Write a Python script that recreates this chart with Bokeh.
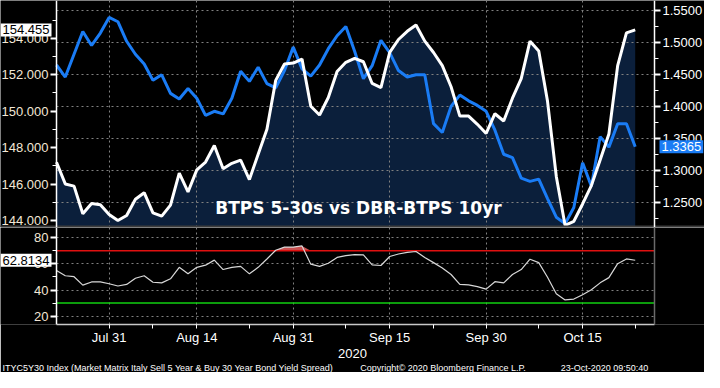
import numpy as np
import pandas as pd
from bokeh.plotting import figure
from bokeh.models import (Range1d, LinearAxis, FixedTicker, NumeralTickFormatter, Grid,
                          Label, Span, Title)
from bokeh.layouts import column
from bokeh.embed import file_html
from bokeh.resources import INLINE

# ---------------- data ----------------
dates = pd.bdate_range("2020-07-23", "2020-10-23")

btps_5s30s = [147.2, 146.01, 145.89, 144.37, 144.94, 144.87, 144.33, 144.0, 144.28, 145.17,
              145.53, 144.42, 144.24, 144.85, 146.60, 145.57, 146.78, 147.21, 148.12, 146.84,
              147.14, 147.32, 146.25, 147.64, 149.01, 151.69, 152.59, 152.64, 152.86, 150.27,
              149.79, 150.75, 152.18, 152.68, 152.90, 152.71, 151.52, 151.29, 153.22, 153.93,
              154.38, 154.73, 153.84, 153.22, 152.50, 151.34, 149.73, 149.73, 149.28, 148.78,
              149.86, 149.46, 150.71, 151.79, 153.84, 153.30, 150.54, 146.42, 143.74, 143.96,
              144.91, 145.92, 147.32, 148.75, 152.50, 154.29, 154.455]

dbr_btps_10y = [1.4644, 1.4456, 1.4812, 1.5168, 1.4950, 1.5144, 1.5388, 1.5321, 1.5015, 1.4812,
                1.4659, 1.4404, 1.4491, 1.4200, 1.4113, 1.4277, 1.4124, 1.3855, 1.3920, 1.3879,
                1.4124, 1.4547, 1.4388, 1.4609, 1.4353, 1.4287, 1.4557, 1.4924, 1.4583, 1.4471,
                1.4644, 1.4899, 1.5102, 1.5245, 1.4858, 1.4430, 1.4633, 1.5031, 1.4838, 1.4557,
                1.4456, 1.4491, 1.4491, 1.3726, 1.3589, 1.3997, 1.4174, 1.4083, 1.4012, 1.3920,
                1.3624, 1.3248, 1.3196, 1.2875, 1.2824, 1.2859, 1.2554, 1.2263, 1.2162, 1.2416,
                1.3115, 1.2748, 1.3523, 1.3359, 1.3726, 1.3726, 1.3365]

rsi_5s30s = [55.0, 50.95, 50.2, 43.8, 46.2, 46.2, 44.8, 43.1, 44.3, 49.0,
             50.95, 45.95, 45.5, 48.6, 57.4, 52.4, 57.4, 59.05, 62.9, 55.7,
             57.4, 58.1, 52.4, 57.4, 63.8, 70.5, 72.9, 72.9, 73.8, 59.8,
             58.1, 60.5, 65.0, 66.4, 67.1, 66.9, 59.3, 58.8, 65.7, 67.6,
             68.8, 69.5, 65.0, 61.0, 56.9, 51.9, 44.3, 44.0, 42.6, 40.7,
             46.4, 45.5, 51.9, 55.7, 63.6, 61.0, 49.8, 37.1, 32.4, 33.1,
             36.4, 40.2, 45.5, 49.5, 60.2, 63.8, 62.8134]

tick_dates = ["2020-07-31", "2020-08-14", "2020-08-31", "2020-09-15", "2020-09-30", "2020-10-15"]
tick_labels = ["Jul 31", "Aug 14", "Aug 31", "Sep 15", "Sep 30", "Oct 15"]
minor_dates = ["2020-08-07", "2020-08-24", "2020-09-08", "2020-09-22", "2020-10-08", "2020-10-23"]
left_ticks = [144, 146, 148, 150, 152, 154]
left_minor = [145, 147, 149, 151, 153, 155]
right_ticks = [1.25, 1.30, 1.35, 1.40, 1.45, 1.50, 1.55]
right_minor = [1.225, 1.275, 1.325, 1.375, 1.425, 1.475, 1.525]
rsi_ticks = [20, 40, 60, 80]
rsi_minor = [30, 50, 70]
rsi_upper = 70
rsi_lower = 30
chart_title = "BTPS 5-30s vs DBR-BTPS 10yr"
footer_left = "ITYC5Y30 Index (Market Matrix Italy Sell 5 Year & Buy 30 Year Bond Yield Spread)"
footer_mid = "Copyright\u00a9 2020 Bloomberg Finance L.P."
footer_right = "23-Oct-2020 09:50:40"
year_label = "2020"

# ---------------- layout / styling ----------------
W = 704
LB, RB = 56, 50            # room for the axis labels (inside the frame)
TOP_H = 227
BOT_H = 145
BG = "#000000"
NAVY = "#0b1f3b"
BLUE = "#1a7cf5"
GRIDC = "#808080"
CREAM = "#f3e7d6"
FONT = "Liberation Sans"

x = np.arange(len(dates))
major_idx = [int(dates.get_loc(pd.Timestamp(d))) for d in tick_dates]
minor_idx = [int(dates.get_loc(pd.Timestamp(d))) for d in minor_dates]

X_AXIS_L, X_AXIS_R = 0.0, 68.2
scale = (W - LB - RB) / (X_AXIS_R - X_AXIS_L)
x_range = Range1d(X_AXIS_L - LB / scale, X_AXIS_R + RB / scale)
TOP_Y0, TOP_Y1 = 143.62, 156.07


def style_axis(ax, color):
    ax.axis_line_color = "#ffffff"
    ax.axis_line_width = 1.5
    ax.major_tick_line_color = "#ffffff"
    ax.major_tick_line_width = 2
    ax.major_tick_out = 6
    ax.major_tick_in = 0
    ax.minor_tick_line_color = "#ffffff"
    ax.minor_tick_out = 4
    ax.minor_tick_in = 0
    ax.major_label_text_color = color
    ax.major_label_text_font = FONT
    ax.major_label_text_font_size = "13px"
    ax.major_label_standoff = 2


def value_box(**kw):
    return Label(text_baseline="middle", text_font=FONT, text_font_size="13px",
                 padding=2, level="overlay", **kw)


# ---------------- top panel ----------------
p1 = figure(width=W, height=TOP_H, x_range=x_range, y_range=Range1d(TOP_Y0, TOP_Y1),
            output_backend="svg", toolbar_location=None,
            min_border_left=0, min_border_right=0, min_border_top=0, min_border_bottom=0,
            background_fill_color=BG, border_fill_color=BG, outline_line_color=None)
p1.extra_y_ranges = {"right": Range1d(1.2102, 1.5653)}

# separator bar drawn as the (label-less) bottom axis of the top panel
xs = p1.xaxis[0]
xs.ticker = FixedTicker(ticks=[])
xs.axis_line_color = "#3c3c3c"
xs.axis_line_width = 4
xs.major_tick_line_color = None
xs.minor_tick_line_color = None
xs.major_label_text_font_size = "0px"
xs.major_label_standoff = 0

yl = p1.yaxis[0]
yl.ticker = FixedTicker(ticks=left_ticks, minor_ticks=left_minor)
yl.formatter = NumeralTickFormatter(format="0.000")
yl.fixed_location = X_AXIS_L
style_axis(yl, CREAM)

yr = LinearAxis(y_range_name="right",
                ticker=FixedTicker(ticks=right_ticks, minor_ticks=right_minor),
                formatter=NumeralTickFormatter(format="0.0000"),
                fixed_location=X_AXIS_R)
style_axis(yr, "#ffffff")
p1.add_layout(yr, "right")

p1.ygrid.grid_line_color = None
p1.xgrid.grid_line_color = None
p1.add_layout(Grid(dimension=1, ticker=yr.ticker, y_range_name="right",
                   cross_bounds=(X_AXIS_L, X_AXIS_R),
                   grid_line_color=GRIDC, grid_line_dash="2 3", grid_line_width=1))
p1.add_layout(Grid(dimension=0, ticker=FixedTicker(ticks=major_idx),
                   grid_line_color=GRIDC, grid_line_dash="2 3", grid_line_width=1))

p1.varea(x=x, y1=TOP_Y0, y2=btps_5s30s, fill_color=NAVY, level="image")
p1.line(x, dbr_btps_10y, y_range_name="right", line_color=BLUE, line_width=3)
p1.line(x, btps_5s30s, line_color="#ffffff", line_width=3)

p1.add_layout(Label(x=18.1, y=144.67, text=chart_title, text_font="DejaVu Sans",
                    text_font_style="bold", text_font_size="17px", text_color="#ffffff",
                    text_baseline="middle"))
p1.add_layout(value_box(x=X_AXIS_L, y=btps_5s30s[-1], text=f"{btps_5s30s[-1]:.3f}",
                        x_offset=-5, text_align="right", text_color="#000000",
                        background_fill_color="#ffffff"))
p1.add_layout(value_box(x=X_AXIS_R, y=dbr_btps_10y[-1], y_range_name="right",
                        text=f"{dbr_btps_10y[-1]:.4f}", x_offset=5, text_align="left",
                        text_color="#ffffff", background_fill_color=BLUE))

# ---------------- bottom panel ----------------
p2 = figure(width=W, height=BOT_H, x_range=x_range, y_range=Range1d(13.6, 87.9),
            output_backend="svg", toolbar_location=None,
            min_border_left=0, min_border_right=0, min_border_top=0, min_border_bottom=0,
            background_fill_color=BG, border_fill_color=BG, outline_line_color=None)
xa = p2.xaxis[0]
xa.ticker = FixedTicker(ticks=major_idx, minor_ticks=minor_idx)
xa.major_label_overrides = {i: lab for i, lab in zip(major_idx, tick_labels)}
xa.bounds = (X_AXIS_L, X_AXIS_R)
style_axis(xa, "#ffffff")
xa.major_tick_out = 4
xa.minor_tick_out = 4
xa.major_tick_line_width = 1
xa.axis_line_color = "#c8c8c8"
xa.major_label_standoff = 1
xa.axis_label = year_label
xa.axis_label_text_color = "#ffffff"
xa.axis_label_text_font = FONT
xa.axis_label_text_font_size = "13px"
xa.axis_label_text_font_style = "normal"
xa.axis_label_standoff = 1

ya = p2.yaxis[0]
ya.ticker = FixedTicker(ticks=rsi_ticks, minor_ticks=rsi_minor)
ya.fixed_location = X_AXIS_L
style_axis(ya, CREAM)

for g in (p2.xgrid, p2.ygrid):
    g.grid_line_color = GRIDC
    g.grid_line_dash = "2 3"
    g.grid_line_width = 1
p2.ygrid.cross_bounds = (X_AXIS_L, X_AXIS_R)

p2.add_layout(Span(location=X_AXIS_R, dimension="height", line_color="#6a6a6a",
                   line_width=1.5))
p2.varea(x=x, y1=rsi_upper, y2=np.maximum(np.array(rsi_5s30s), rsi_upper),
         fill_color="#c85050")
p2.segment(x0=X_AXIS_L, x1=X_AXIS_R, y0=rsi_upper, y1=rsi_upper,
           line_color="#e01010", line_width=1.5)
p2.segment(x0=X_AXIS_L, x1=X_AXIS_R, y0=rsi_lower, y1=rsi_lower,
           line_color="#10d010", line_width=1.5)
p2.line(x, rsi_5s30s, line_color="#d8d8d8", line_width=1.2)
p2.add_layout(value_box(x=X_AXIS_L, y=rsi_5s30s[-1], text=f"{rsi_5s30s[-1]:.4f}",
                        x_offset=-5, text_align="right", text_color="#000000",
                        background_fill_color="#ffffff"))

footer = (footer_left + "\u00a0" * 11 + footer_mid + "\u00a0" * 14 + footer_right)
p2.add_layout(Title(text=footer, align="left", offset=2, text_font=FONT,
                    text_font_size="9px", text_color="#ffffff", text_font_style="normal",
                    standoff=0), "below")

layout = column(p1, p2, spacing=0)
open("out.html", "w").write(file_html(layout, INLINE))
